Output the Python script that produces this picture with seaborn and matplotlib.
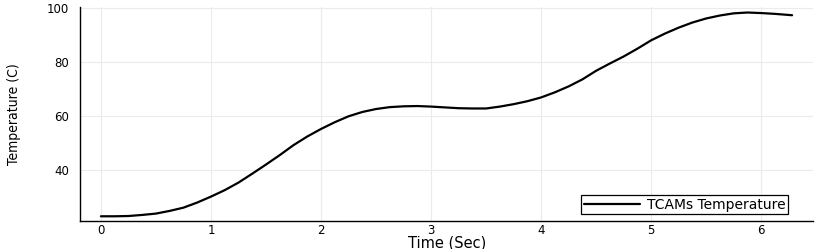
import numpy as np
import seaborn as sns
from matplotlib import pyplot as plt

# Values
time_sec = [0.0, 0.125, 0.25, 0.375, 0.5, 0.625, 0.75, 0.875, 1.0, 1.125, 1.25, 1.375,
            1.5, 1.625, 1.75, 1.875, 2.0, 2.125, 2.25, 2.375, 2.5, 2.625, 2.75, 2.875,
            3.0, 3.125, 3.25, 3.375, 3.5, 3.625, 3.75, 3.875, 4.0, 4.125, 4.25, 4.375,
            4.5, 4.625, 4.75, 4.875, 5.0, 5.125, 5.25, 5.375, 5.5, 5.625, 5.75, 5.875,
            6.0, 6.125, 6.28]
temperature = [22.8, 22.8, 22.9, 23.3, 23.8, 24.8, 26.0, 27.9, 30.1, 32.5, 35.3, 38.6,
               42.0, 45.5, 49.2, 52.4, 55.2, 57.7, 59.9, 61.5, 62.6, 63.3, 63.6, 63.7,
               63.5, 63.2, 62.9, 62.8, 62.8, 63.5, 64.4, 65.5, 66.9, 68.8, 71.0, 73.6,
               76.8, 79.5, 82.1, 85.0, 88.1, 90.6, 92.8, 94.7, 96.2, 97.3, 98.1, 98.4,
               98.2, 97.9, 97.4]
x_ticks = [0, 1, 2, 3, 4, 5, 6]
y_ticks = [40, 60, 80, 100]

sns.set_style("white")
plt.rcParams['font.family'] = ['DejaVu Sans']
plt.rcParams['text.color'] = 'black'
plt.rcParams['axes.labelcolor'] = 'black'

fig = plt.figure(figsize=(8.3, 2.49), dpi=100)
ax = fig.add_axes([80 / 830, 1 - 221 / 249, (813 - 80) / 830, (221 - 7) / 249])

sns.lineplot(x=time_sec, y=temperature, ax=ax, color='black', linewidth=1.6,
             label='TCAMs Temperature')

ax.set_xlim(-0.19, 6.47)
ax.set_ylim(21.05, 100.45)
ax.set_xticks(x_ticks)
ax.set_yticks(y_ticks)
ax.grid(True, color='#ebebeb', linewidth=0.8)
for side in ('top', 'right'):
    ax.spines[side].set_visible(False)
for side in ('left', 'bottom'):
    ax.spines[side].set_color('black')
    ax.spines[side].set_linewidth(1.0)
ax.tick_params(direction='in', length=3, width=0.8, labelsize=8.5, colors='black')
ax.tick_params(axis='x', pad=2)
ax.tick_params(axis='y', pad=8)

ax.set_xlabel('Time (Sec)', fontsize=10.5)
ax.xaxis.set_label_coords(0.501, -0.068)
ax.set_ylabel('Temperature (C)', fontsize=10, fontstretch='condensed')
ax.yaxis.set_label_coords(-0.08, 0.5)

leg = ax.legend(loc='lower right', fontsize=10, frameon=True, fancybox=False,
                edgecolor='black', framealpha=1, borderpad=0.2, handlelength=4.0,
                handletextpad=0.5, borderaxespad=0, bbox_to_anchor=(0.966, 0.031))
leg.get_frame().set_linewidth(0.9)

plt.savefig('out.png', dpi=100)
plt.close()
